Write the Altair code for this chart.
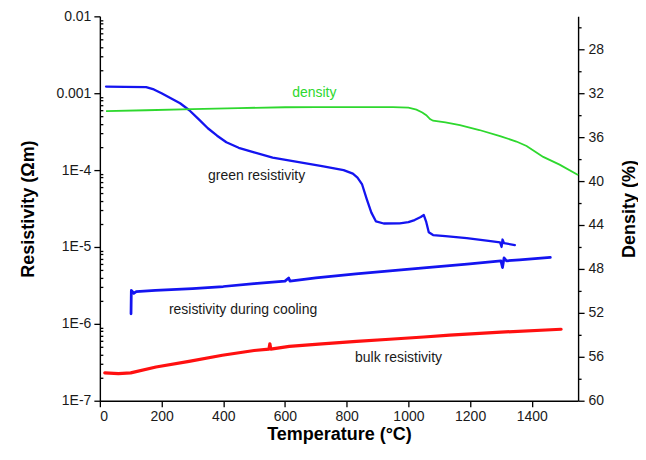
import altair as alt
import pandas as pd

# ---- data ----
green_T = [20, 80, 150, 175, 200, 230, 260, 290, 320, 350, 380, 410, 450, 500, 560, 640, 720,
           790, 820, 835, 850, 865, 880, 895, 920, 972, 1000, 1020, 1040, 1050, 1058, 1066,
           1080, 1120, 1189, 1260, 1297, 1302, 1305, 1310, 1345]
green_R = [1.22e-3, 1.21e-3, 1.2e-3, 1.12e-3, 1.0e-3, 8.6e-4, 7.4e-4, 6.0e-4, 4.6e-4, 3.5e-4,
           2.8e-4, 2.3e-4, 1.95e-4, 1.7e-4, 1.45e-4, 1.28e-4, 1.13e-4, 1.0e-4, 9.0e-5, 8.0e-5,
           6.5e-5, 4.2e-5, 2.8e-5, 2.15e-5, 2.02e-5, 2.03e-5, 2.1e-5, 2.24e-5, 2.45e-5, 2.6e-5,
           2.1e-5, 1.55e-5, 1.43e-5, 1.38e-5, 1.3e-5, 1.2e-5, 1.15e-5, 1.0e-5, 1.25e-5, 1.12e-5,
           1.06e-5]

cool_T = [101, 102, 110, 118, 180, 300, 400, 500, 600, 612, 616, 700, 830, 940, 1050, 1190,
          1300, 1305, 1310, 1318, 1360, 1460]
cool_R = [1.35e-6, 2.72e-6, 2.5e-6, 2.63e-6, 2.72e-6, 2.88e-6, 3.06e-6, 3.33e-6, 3.6e-6,
          3.95e-6, 3.6e-6, 3.95e-6, 4.46e-6, 4.9e-6, 5.35e-6, 6.0e-6, 6.6e-6, 5.4e-6, 7.2e-6,
          6.6e-6, 6.8e-6, 7.3e-6]

bulk_T = [16, 60, 100, 182, 289, 397, 500, 548, 551, 554, 614, 720, 832, 939, 1050, 1134,
          1300, 1495]
bulk_R = [2.3e-7, 2.25e-7, 2.3e-7, 2.75e-7, 3.25e-7, 3.9e-7, 4.5e-7, 4.7e-7, 5.5e-7, 4.7e-7,
          5.1e-7, 5.5e-7, 5.9e-7, 6.3e-7, 6.75e-7, 7.15e-7, 7.8e-7, 8.5e-7]

dens_T = [20, 150, 300, 450, 600, 700, 950, 1000, 1026, 1045, 1058, 1070, 1080, 1120, 1167,
          1230, 1297, 1350, 1383, 1410, 1437, 1490, 1550]
dens_D = [33.63, 33.55, 33.45, 33.35, 33.28, 33.27, 33.27, 33.32, 33.5, 33.75, 34.0, 34.35,
          34.5, 34.65, 34.9, 35.35, 35.9, 36.4, 36.8, 37.3, 37.8, 38.5, 39.45]

density_label = ["density"]
density_label_T = [695]
density_label_R = [1.0e-3]

curve_labels = ["green resistivity", "resistivity during cooling", "bulk resistivity"]
curve_label_T = [508, 464, 968]
curve_label_R = [8.4e-5, 1.52e-6, 3.6e-7]

series_names = ["green", "cooling", "bulk"]
series_colors = ["#1414f0", "#1414f0", "#ff1010"]
series_widths = [2.3, 3.2, 7]

x_ticks = list(range(0, 1501, 100))
y_ticks = [m * 10.0 ** e for e in range(-7, -2) for m in range(1, 10)] + [1e-2]
d_ticks = list(range(26, 61, 2))

GREEN = "#2ed82e"

# ---- tables ----
res_df = pd.concat([
    pd.DataFrame({"T": green_T, "R": green_R, "series": "green"}),
    pd.DataFrame({"T": cool_T, "R": cool_R, "series": "cooling"}),
    pd.DataFrame({"T": bulk_T, "R": bulk_R, "series": "bulk"}),
])
dens_df = pd.DataFrame({"T": dens_T, "D": dens_D})
dlab_df = pd.DataFrame({"T": density_label_T, "R": density_label_R, "text": density_label})
clab_df = pd.DataFrame({"T": curve_label_T, "R": curve_label_R, "text": curve_labels})

FONT = "Liberation Sans"

x_enc = alt.X(
    "T:Q",
    scale=alt.Scale(domain=[0, 1550], nice=False, zero=False),
    axis=alt.Axis(
        title="Temperature (°C)",
        values=x_ticks,
        labelExpr="datum.value % 200 == 0 ? format(datum.value, 'd') : ''",
        tickSize={"condition": {"test": "datum.value % 200 == 0", "value": 6}, "value": -4},
        titlePadding=2,
        labelPadding=3,
    ),
)

res_scale = alt.Scale(type="log", domain=[1e-7, 1e-2], nice=False)
res_axis = alt.Axis(
    title="Resistivity (Ωm)",
    orient="left",
    values=y_ticks,
    labelExpr=(
        "abs(log(datum.value)/LN10 - round(log(datum.value)/LN10)) > 0.001 ? '' : "
        "(round(log(datum.value)/LN10) == -2 ? '0.01' : "
        "(round(log(datum.value)/LN10) == -3 ? '0.001' : '1E' + round(log(datum.value)/LN10)))"
    ),
    tickSize={"condition": {"test": "abs(log(datum.value)/LN10 - round(log(datum.value)/LN10)) < 0.001",
                            "value": 6}, "value": -3},
    titlePadding=18,
    labelPadding=3,
)

lines = alt.Chart(res_df).mark_line(strokeJoin="round", strokeCap="round").encode(
    x=x_enc,
    y=alt.Y("R:Q", scale=res_scale, axis=res_axis),
    color=alt.Color("series:N", scale=alt.Scale(domain=series_names, range=series_colors), legend=None),
    strokeWidth=alt.StrokeWidth("series:N", scale=alt.Scale(domain=series_names, range=series_widths), legend=None),
    detail="series:N",
    order="T:Q",
)

dlabel = alt.Chart(dlab_df).mark_text(font=FONT, fontSize=14, align="center", baseline="middle",
                                       color=GREEN).encode(
    x=alt.X("T:Q"), y=alt.Y("R:Q"), text="text:N",
)
clabels = alt.Chart(clab_df).mark_text(font=FONT, fontSize=14, align="center", baseline="middle",
                                        color="#1a1a1a").encode(
    x=alt.X("T:Q"), y=alt.Y("R:Q"), text="text:N",
)

dens = alt.Chart(dens_df).mark_line(color=GREEN, strokeWidth=1.8).encode(
    x=alt.X("T:Q"),
    y=alt.Y(
        "D:Q",
        scale=alt.Scale(domain=[25, 60], reverse=True, nice=False, zero=False),
        axis=alt.Axis(
            title="Density (%)",
            orient="right",
            values=d_ticks,
            labelExpr="datum.value % 4 == 0 ? format(datum.value, 'd') : ''",
            tickSize={"condition": {"test": "datum.value % 4 == 0", "value": 6}, "value": 3},
            titleAngle=270,
            titleBaseline="top",
            titlePadding=17,
            labelPadding=4,
        ),
    ),
    order="T:Q",
)

chart = alt.layer(alt.layer(lines, dlabel, clabels), dens).resolve_scale(
    y="independent"
).properties(
    width=479,
    height=385,
    autosize=alt.AutoSizeParams(type="none"),
    padding={"left": 92, "top": 8, "right": 60, "bottom": 48},
    background="white",
).configure_view(stroke=None).configure_axis(
    grid=False,
    domainColor="#000000",
    domainWidth=1.4,
    tickColor="#000000",
    tickWidth=1.3,
    labelFont=FONT,
    labelFontSize=14,
    labelColor="#1a1a1a",
    titleFont=FONT,
    titleFontSize=18,
    titleFontWeight="bold",
    titleColor="#000000",
)

chart.save("out.html", embed_options={"renderer": "svg", "actions": False})
